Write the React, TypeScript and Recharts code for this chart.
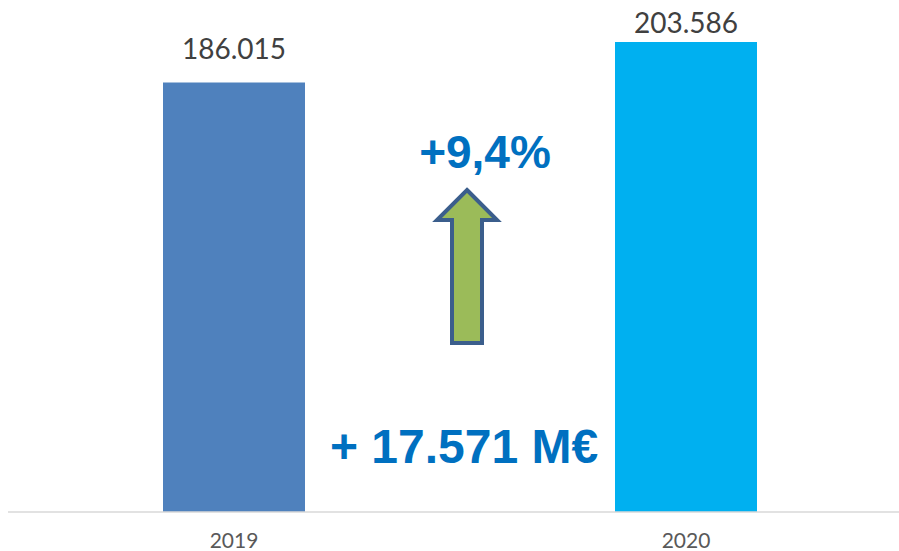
import { Bar, BarChart, XAxis, YAxis, Cell, LabelList } from "recharts";

const years = ["2019", "2020"];
const revenue = [186015, 203586];
const barColors = ["#4F81BD", "#00B0F0"];
const growthPct = "+9,4%";
const growthAbs = "+ 17.571 M€";

const chartData = years.map((year, i) => ({ year, value: revenue[i] }));

const fmt = (v: number) => v.toLocaleString("de-DE");

function ValueLabel(props: any) {
  const { x, y, width, value } = props;
  // like Excel: keep the label inside the chart area
  const baseline = Math.max(y - 23, 33);
  return (
    <text
      x={x + width / 2}
      y={baseline}
      textAnchor="middle"
      fill="#404040"
      fontFamily="Lato, 'Open Sans', sans-serif"
      fontSize={28}
    >
      {fmt(value)}
    </text>
  );
}

function YearTick(props: any) {
  const { x, y, payload } = props;
  return (
    <text x={x} y={y + 36} textAnchor="middle" fill="#595959" fontFamily="Lato, 'Open Sans', sans-serif" fontSize={21}>
      {payload.value}
    </text>
  );
}

export default function App() {
  return (
    <div style={{ position: "absolute", left: 0, top: 0, width: 899, height: 551, overflow: "hidden", background: "#fff" }}>
      <BarChart width={912} height={551} data={chartData} margin={{ top: 4, right: 0, bottom: 0, left: 8 }}>
        <XAxis
          dataKey="year"
          height={39}
          tickLine={false}
          tickSize={0}
          tickMargin={0}
          axisLine={{ stroke: "#D9D9D9", strokeWidth: 1.5 }}
          tick={<YearTick />}
          interval={0}
        />
        <YAxis hide domain={[0, 220000]} />
        <Bar dataKey="value" barSize={142} isAnimationActive={false}>
          {chartData.map((d, i) => (
            <Cell key={d.year} fill={barColors[i]} />
          ))}
          <LabelList dataKey="value" content={<ValueLabel />} />
        </Bar>
      </BarChart>
      <svg width={899} height={551} style={{ position: "absolute", left: 0, top: 0, pointerEvents: "none" }}>
        <text x={485} y={168} textAnchor="middle" fill="#0070C0" fontFamily="'Liberation Sans', Arial, sans-serif" fontWeight={700} fontSize={46}>
          {growthPct}
        </text>
        <polygon
          points="467,190 497,220 482,220 482,343 452,343 452,220 437,220"
          fill="#9BBB59"
          stroke="#3B5E8C"
          strokeWidth={4}
          strokeLinejoin="miter"
        />
        <text x={464} y={463} textAnchor="middle" fill="#0070C0" fontFamily="'Liberation Sans', Arial, sans-serif" fontWeight={700} fontSize={48}>
          {growthAbs}
        </text>
      </svg>
    </div>
  );
}
